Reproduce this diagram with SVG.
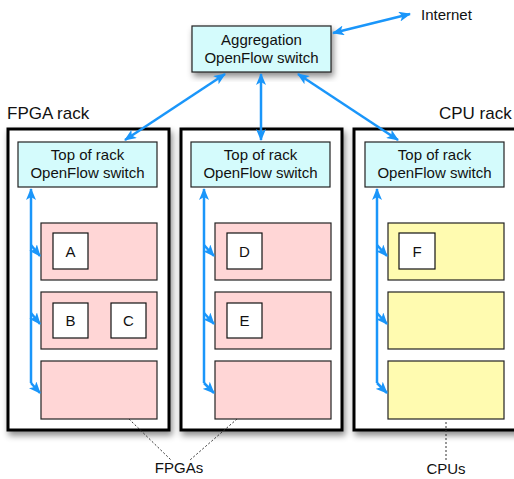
<svg xmlns="http://www.w3.org/2000/svg" width="514" height="479" viewBox="0 0 514 479">
<defs>
<filter id="sh" x="-10%" y="-10%" width="130%" height="130%">
<feDropShadow dx="2" dy="4" stdDeviation="3" flood-color="#000" flood-opacity="0.45"/>
</filter>
<marker id="ah" viewBox="0 0 12 10" refX="11" refY="5" markerWidth="12" markerHeight="10" markerUnits="userSpaceOnUse" orient="auto-start-reverse">
<path d="M0,0 L12,5 L0,10 L3,5 Z" fill="#1a96fa"/>
</marker>
<style>
text{font-family:"Liberation Sans",Arial,sans-serif;fill:#111;}
.t{font-size:15px;text-anchor:middle;}
.rack{fill:#fff;stroke:#000;stroke-width:3;filter:url(#sh);}
.sw{fill:#d4fbfc;stroke:#222;stroke-width:1.2;}
.fp{fill:#ffd6d6;stroke:#222;stroke-width:1.2;}
.cp{fill:#fffbb0;stroke:#222;stroke-width:1.2;}
.cell{fill:#fff;stroke:#111;stroke-width:1.2;}
.c{stroke:#1a96fa;stroke-width:2.5;fill:none;}
.ca{stroke:#1a96fa;stroke-width:2.5;fill:none;marker-end:url(#ah);}
.cb{stroke:#1a96fa;stroke-width:2.5;fill:none;marker-end:url(#ah);marker-start:url(#ah);}
.dot{stroke:#333;stroke-width:1;stroke-dasharray:2 2;fill:none;}
</style>
</defs>
<rect width="514" height="479" fill="#fff"/>

<text x="7" y="119" style="font-size:17px">FPGA rack</text>
<text x="439" y="119" style="font-size:17px">CPU rack</text>
<text x="421" y="20" style="font-size:15px">Internet</text>

<g id="rack-fpga1">
<rect class="rack" x="8" y="129" width="161" height="301"/>
</g>
<g id="rack-fpga2">
<rect class="rack" x="181" y="129" width="161" height="301"/>
</g>
<g id="rack-cpu">
<rect class="rack" x="354" y="129" width="170" height="301"/>
</g>

<g id="aggregation">
<rect class="sw" x="192" y="26" width="139" height="46" style="filter:url(#sh)"/>
<text class="t" x="261.5" y="45">Aggregation</text>
<text class="t" x="261.5" y="63">OpenFlow switch</text>
</g>

<g id="tor1">
<rect class="sw" x="18" y="142" width="139" height="45"/>
<text class="t" x="87.5" y="160">Top of rack</text>
<text class="t" x="87.5" y="178">OpenFlow switch</text>
</g>
<g id="tor2">
<rect class="sw" x="191" y="142" width="139" height="45"/>
<text class="t" x="260.5" y="160">Top of rack</text>
<text class="t" x="260.5" y="178">OpenFlow switch</text>
</g>
<g id="tor3">
<rect class="sw" x="365" y="142" width="139" height="45"/>
<text class="t" x="434.5" y="160">Top of rack</text>
<text class="t" x="434.5" y="178">OpenFlow switch</text>
</g>

<g id="fpga1-board1">
<rect class="fp" x="41" y="223" width="116" height="57"/>
<rect class="cell" x="53" y="233" width="35" height="36"/>
<text class="t" x="70.5" y="257">A</text>
</g>
<g id="fpga1-board2">
<rect class="fp" x="41" y="292" width="116" height="57"/>
<rect class="cell" x="53" y="303" width="35" height="35"/>
<text class="t" x="70.5" y="326">B</text>
<rect class="cell" x="111" y="303" width="35" height="35"/>
<text class="t" x="128.5" y="326">C</text>
</g>
<g id="fpga1-board3">
<rect class="fp" x="41" y="361" width="116" height="58"/>
</g>

<g id="fpga2-board1">
<rect class="fp" x="215" y="223" width="116" height="57"/>
<rect class="cell" x="227" y="233" width="35" height="36"/>
<text class="t" x="244.5" y="257">D</text>
</g>
<g id="fpga2-board2">
<rect class="fp" x="215" y="292" width="116" height="57"/>
<rect class="cell" x="227" y="303" width="35" height="35"/>
<text class="t" x="244.5" y="326">E</text>
</g>
<g id="fpga2-board3">
<rect class="fp" x="215" y="361" width="116" height="58"/>
</g>

<g id="cpu-board1">
<rect class="cp" x="388" y="223" width="116" height="57"/>
<rect class="cell" x="399" y="233" width="36" height="36"/>
<text class="t" x="417" y="257">F</text>
</g>
<g id="cpu-board2">
<rect class="cp" x="388" y="292" width="116" height="57"/>
</g>
<g id="cpu-board3">
<rect class="cp" x="388" y="361" width="116" height="58"/>
</g>

<g id="connectors">
<line class="cb" x1="333" y1="33" x2="410" y2="14"/>
<line class="cb" x1="225" y1="74" x2="125" y2="140"/>
<line class="cb" x1="261" y1="74" x2="261" y2="140"/>
<line class="cb" x1="298" y1="74" x2="398" y2="140"/>

<path class="ca" d="M31,383 L31,189"/>
<path class="ca" d="M31,245 L40,256"/>
<path class="ca" d="M31,313 L40,324"/>
<path class="ca" d="M31,383 L40,393"/>

<path class="ca" d="M204,383 L204,189"/>
<path class="ca" d="M204,245 L214,256"/>
<path class="ca" d="M204,313 L214,324"/>
<path class="ca" d="M204,383 L214,393"/>

<path class="ca" d="M377,383 L377,189"/>
<path class="ca" d="M377,245 L387,256"/>
<path class="ca" d="M377,313 L387,324"/>
<path class="ca" d="M377,383 L387,393"/>

<line class="dot" x1="129" y1="419" x2="171" y2="460"/>
<line class="dot" x1="237" y1="419" x2="190" y2="460"/>
<line class="dot" x1="446" y1="422" x2="446" y2="462"/>
</g>

<text class="t" x="179" y="473">FPGAs</text>
<text class="t" x="446" y="474">CPUs</text>
</svg>
